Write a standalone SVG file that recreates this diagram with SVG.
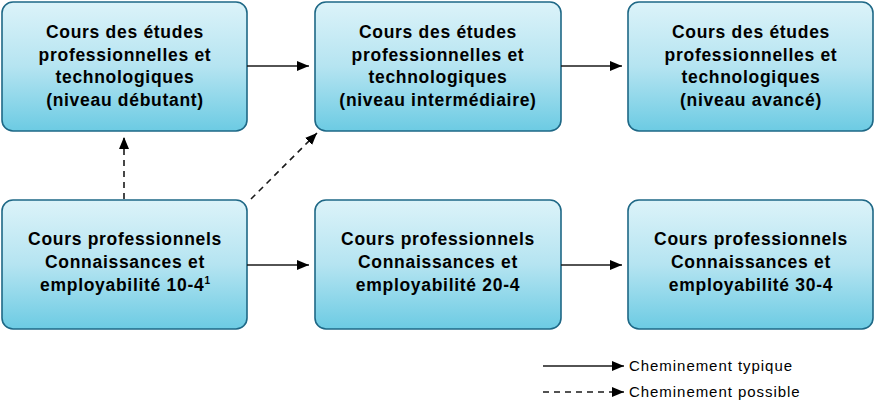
<svg xmlns="http://www.w3.org/2000/svg" width="875" height="403" viewBox="0 0 875 403">
<style>
.box{fill:url(#g);stroke:#1e6886;stroke-width:1.6}
.t{font-family:"Liberation Sans",Arial,sans-serif;font-weight:bold;font-size:17.5px;letter-spacing:0.7px;fill:#000;text-anchor:middle}
.sup{font-size:10px;letter-spacing:0}
.c{stroke:#1a1a1a;stroke-width:1.6;fill:none}
.d{stroke-dasharray:6,5}
.lg{font-family:"Liberation Sans",Arial,sans-serif;font-size:15px;letter-spacing:0.95px;fill:#000}
</style>
<defs>
<linearGradient id="g" x1="0" y1="0" x2="0" y2="1">
<stop offset="0" stop-color="#dcf3f9"/>
<stop offset="0.5" stop-color="#b5e4f1"/>
<stop offset="1" stop-color="#6ccbe3"/>
</linearGradient>
<marker id="a" viewBox="0 0 12 10" refX="12" refY="5" markerWidth="12" markerHeight="10" markerUnits="userSpaceOnUse" orient="auto">
<path d="M0,0 L12,5 L0,10 Z" fill="#000"/>
</marker>
</defs>
<g id="n1"><rect class="box" x="2" y="2" width="245" height="129" rx="11"/>
<text class="t"><tspan x="125" y="38">Cours des études</tspan><tspan x="125" y="60.5">professionnelles et</tspan><tspan x="125" y="83">technologiques</tspan><tspan x="125" y="105.5">(niveau débutant)</tspan></text></g>
<g id="n2"><rect class="box" x="315" y="2" width="246" height="129" rx="11"/>
<text class="t"><tspan x="438" y="38">Cours des études</tspan><tspan x="438" y="60.5">professionnelles et</tspan><tspan x="438" y="83">technologiques</tspan><tspan x="438" y="105.5">(niveau intermédiaire)</tspan></text></g>
<g id="n3"><rect class="box" x="628" y="2" width="245" height="129" rx="11"/>
<text class="t"><tspan x="751" y="38">Cours des études</tspan><tspan x="751" y="60.5">professionnelles et</tspan><tspan x="751" y="83">technologiques</tspan><tspan x="751" y="105.5">(niveau avancé)</tspan></text></g>
<g id="n4"><rect class="box" x="2" y="200" width="245" height="129" rx="11"/>
<text class="t"><tspan x="125" y="245">Cours professionnels</tspan><tspan x="125" y="268">Connaissances et</tspan><tspan x="125" y="291">employabilité 10-4<tspan class="sup" dy="-7">1</tspan></tspan></text></g>
<g id="n5"><rect class="box" x="315" y="200" width="246" height="129" rx="11"/>
<text class="t"><tspan x="438" y="245">Cours professionnels</tspan><tspan x="438" y="268">Connaissances et</tspan><tspan x="438" y="291">employabilité 20-4</tspan></text></g>
<g id="n6"><rect class="box" x="628" y="200" width="245" height="129" rx="11"/>
<text class="t"><tspan x="751" y="245">Cours professionnels</tspan><tspan x="751" y="268">Connaissances et</tspan><tspan x="751" y="291">employabilité 30-4</tspan></text></g>
<g id="connectors">
<line class="c" x1="247" y1="66" x2="309" y2="66" marker-end="url(#a)"/>
<line class="c" x1="561" y1="66" x2="622" y2="66" marker-end="url(#a)"/>
<line class="c" x1="247" y1="265" x2="309" y2="265" marker-end="url(#a)"/>
<line class="c" x1="561" y1="265" x2="622" y2="265" marker-end="url(#a)"/>
<line class="c d" x1="124" y1="199" x2="124" y2="137" marker-end="url(#a)"/>
<line class="c d" x1="251" y1="199" x2="317" y2="133" marker-end="url(#a)"/>
</g>
<g id="legend">
<line class="c" x1="543" y1="366" x2="624" y2="366" marker-end="url(#a)"/>
<line class="c d" x1="543" y1="392" x2="624" y2="392" marker-end="url(#a)"/>
<text class="lg" x="629" y="371">Cheminement typique</text>
<text class="lg" x="629" y="397">Cheminement possible</text>
</g>
</svg>
